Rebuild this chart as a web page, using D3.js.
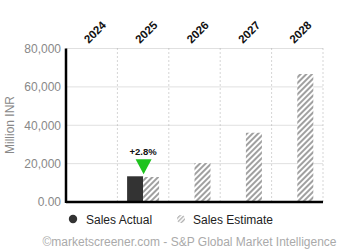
<!DOCTYPE html>
<html><head><meta charset="utf-8">
<script src="https://cdn.jsdelivr.net/npm/d3@7"></script>
<style>body{margin:0;background:#fff;font-family:Arial,"Liberation Sans",sans-serif;}</style>
</head><body><svg id="c" width="338" height="250"></svg>
<script>
const years = ["2024","2025","2026","2027","2028"];
const salesActual = [null, 13400, null, null, null];
const salesEstimate = [null, 13030, 20300, 36100, 66700];
const yTicks = [0, 20000, 40000, 60000, 80000];
const surpriseLabel = "+2.8%";
const surpriseYear = "2025";

const svg = d3.select("#c");
const m = {l:66, r:323, t:48.5, b:202};
const x = d3.scaleBand().domain(years).range([m.l, m.r]);
const y = d3.scaleLinear().domain([0,80000]).range([m.b, m.t]);

const defs = svg.append("defs");
const pat = defs.append("pattern").attr("id","hatch").attr("patternUnits","userSpaceOnUse")
  .attr("width",4).attr("height",4).attr("patternTransform","rotate(45)");
pat.append("rect").attr("width",4).attr("height",4).attr("fill","#fff");
pat.append("rect").attr("width",2).attr("height",4).attr("fill","#a0a0a0");
const pat2 = defs.append("pattern").attr("id","hatch2").attr("patternUnits","userSpaceOnUse")
  .attr("width",3).attr("height",3).attr("patternTransform","rotate(45)");
pat2.append("rect").attr("width",3).attr("height",3).attr("fill","#fff");
pat2.append("rect").attr("width",1.3).attr("height",3).attr("fill","#aaa");

// horizontal grid
svg.append("g").selectAll("line").data(yTicks.slice(1)).join("line")
  .attr("x1",m.l).attr("x2",m.r).attr("y1",d=>y(d)).attr("y2",d=>y(d))
  .attr("stroke","#e0e0e0").attr("stroke-width",1);
// vertical dotted
svg.append("g").selectAll("line").data(years).join("line")
  .attr("x1",d=>x(d)+x.bandwidth()).attr("x2",d=>x(d)+x.bandwidth())
  .attr("y1",m.t).attr("y2",m.b)
  .attr("stroke","#aaa").attr("stroke-width",1).attr("stroke-dasharray","1,3");

// y axis labels
const ya = svg.append("g").attr("transform",`translate(${m.l},0)`)
  .call(d3.axisLeft(y).tickValues(yTicks).tickSize(0).tickPadding(5)
    .tickFormat(d=>d===0?"0.00":d3.format(",")(d)));
ya.select(".domain").remove();
ya.selectAll("text").attr("fill","#888").attr("font-size","12px").attr("font-family","Arial,'Liberation Sans',sans-serif");

// x axis labels top
svg.append("g").selectAll("text").data(years).join("text")
  .attr("transform",d=>`translate(${x(d)+x.bandwidth()/2-3},${44}) rotate(-45)`)
  .attr("font-size","11.5px").attr("font-weight","bold").attr("fill","#111")
  .text(d=>d);

const bw = 16;
const cx = d=>x(d)+x.bandwidth()/2;
// actual bars
svg.append("g").selectAll("rect").data(years.map((d,i)=>({yr:d,v:salesActual[i]})).filter(d=>d.v!=null)).join("rect")
  .attr("x",d=>cx(d.yr)-bw).attr("width",bw).attr("y",d=>y(d.v)).attr("height",d=>y(0)-y(d.v))
  .attr("fill","#333");
// estimate bars
svg.append("g").selectAll("rect").data(years.map((d,i)=>({yr:d,v:salesEstimate[i]})).filter(d=>d.v!=null)).join("rect")
  .attr("x",d=>cx(d.yr)).attr("width",bw).attr("y",d=>y(d.v)).attr("height",d=>y(0)-y(d.v))
  .attr("fill","url(#hatch)");

// axes lines
svg.append("line").attr("x1",m.l).attr("x2",m.l).attr("y1",m.t).attr("y2",m.b+1).attr("stroke","#000").attr("stroke-width",2.5);
svg.append("line").attr("x1",m.l).attr("x2",m.r).attr("y1",m.b).attr("y2",m.b).attr("stroke","#000").attr("stroke-width",2.5);

// surprise marker
const si = years.indexOf(surpriseYear);
const tx = cx(surpriseYear)+0.5;
const ty = y(Math.max(salesActual[si], salesEstimate[si]));
svg.append("path").attr("d",`M${tx-8},${ty-17}L${tx+8},${ty-17}L${tx},${ty-2}Z`).attr("fill","#1ec31e");
svg.append("text").attr("x",tx-0.5).attr("y",ty-21).attr("text-anchor","middle")
  .attr("font-size","9.5px").attr("font-weight","bold").attr("fill","#111").text(surpriseLabel);

// y title
svg.append("text").attr("transform","translate(14,125) rotate(-90)").attr("text-anchor","middle")
  .attr("font-size","12px").attr("fill","#888").text("Million INR");

// legend
svg.append("circle").attr("cx",73).attr("cy",219).attr("r",4.2).attr("fill","#333");
svg.append("text").attr("x",86).attr("y",223.5).attr("font-size","12px").attr("fill","#222").text("Sales Actual");
svg.append("circle").attr("cx",181).attr("cy",219).attr("r",4).attr("fill","url(#hatch2)");
svg.append("text").attr("x",193).attr("y",223.5).attr("font-size","12px").attr("fill","#222").text("Sales Estimate");

// footer
svg.append("text").attr("x",189.5).attr("y",245.5).attr("text-anchor","middle")
  .attr("font-size","12px").attr("fill","#aaa").text("©marketscreener.com - S&P Global Market Intelligence");
</script></body></html>
